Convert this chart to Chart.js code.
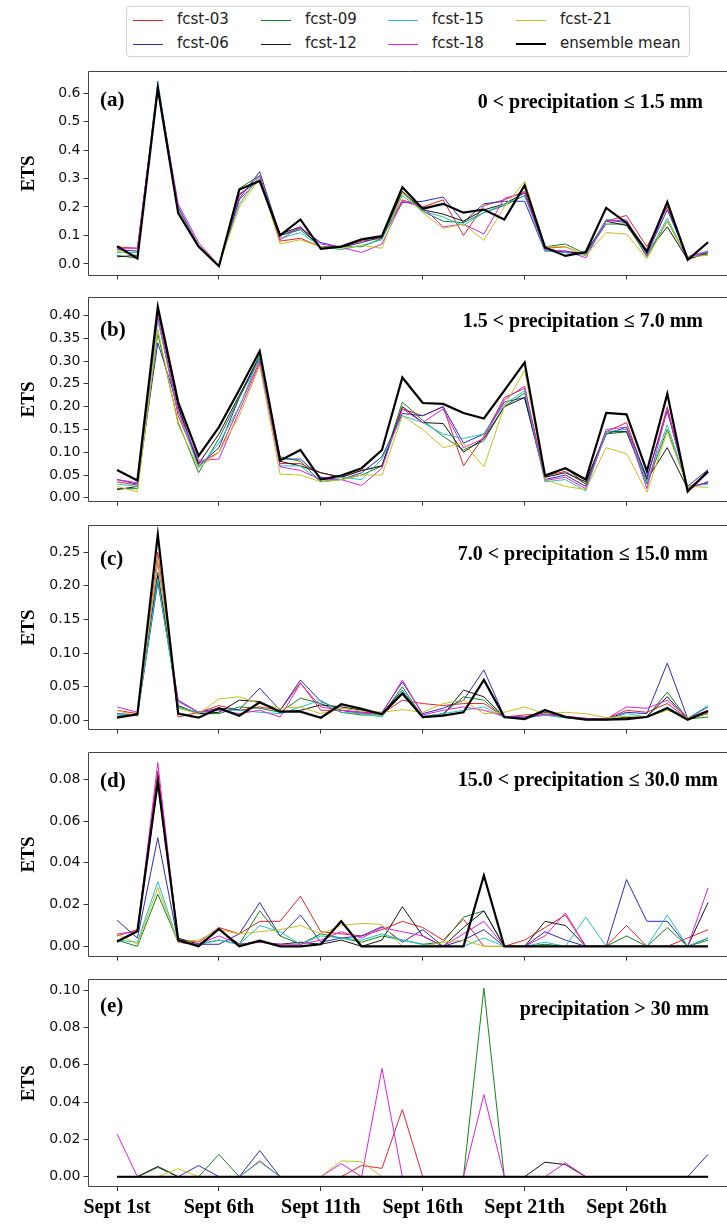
<!DOCTYPE html>
<html>
<head>
<meta charset="utf-8">
<script src="https://cdn.jsdelivr.net/npm/chart.js@4.4.1/dist/chart.umd.min.js"></script>
<style>
  body { margin: 0; background: #fff; width: 727px; height: 1225px; position: relative; overflow: hidden; }
  canvas { position: absolute; left: 0; }
  #legend { position: absolute; left: 126px; top: 6px; width: 562px; height: 49px; border: 1px solid #d0d0d0; border-radius: 4px; font-family: "DejaVu Sans"; font-size: 15px; color: #222; }
  #legend div, #legend span { position: absolute; }
</style>
</head>
<body>
<div id="legend"></div>
<canvas id="pa" width="727" height="227" style="top:60px"></canvas>
<canvas id="pb" width="727" height="227" style="top:286px"></canvas>
<canvas id="pc" width="727" height="227" style="top:514px"></canvas>
<canvas id="pd" width="727" height="227" style="top:741px"></canvas>
<canvas id="pe" width="727" height="257" style="top:968px"></canvas>
<script>
// days of September
const days = [1,2,3,4,5,6,7,8,9,10,11,12,13,14,15,16,17,18,19,20,21,22,23,24,25,26,27,28,29,30];
const tickDays = [1, 6, 11, 16, 21, 26];
const tickLabels = ["Sept 1st", "Sept 6th", "Sept 11th", "Sept 16th", "Sept 21th", "Sept 26th"];

const names = ["fcst-03", "fcst-06", "fcst-09", "fcst-12", "fcst-15", "fcst-18", "fcst-21", "ensemble mean"];
const colors = ["#e3242b", "#2a2ab8", "#12841a", "#151515", "#22c2c2", "#dd22dd", "#c8c020", "#000000"];

// (a) 0 < precipitation <= 1.5 mm
const a03 = [.060,.055,.620,.190,.065,-.005,.225,.300,.080,.090,.060,.060,.080,.090,.225,.200,.225,.100,.205,.225,.255,.055,.060,.030,.150,.170,.060,.200,.020,.040];
const a06 = [.050,.045,.625,.200,.065,-.005,.230,.324,.100,.125,.075,.058,.075,.095,.215,.220,.235,.147,.211,.220,.220,.045,.045,.035,.155,.145,.035,.190,.025,.045];
const a09 = [.030,.020,.630,.185,.060,-.005,.265,.310,.100,.120,.060,.062,.060,.090,.250,.185,.150,.145,.180,.205,.240,.060,.070,.035,.140,.140,.025,.150,.020,.035];
const a12 = [.025,.030,.615,.180,.060,-.006,.245,.295,.105,.130,.055,.060,.085,.095,.255,.190,.175,.150,.190,.210,.250,.055,.040,.040,.150,.135,.040,.130,.015,.040];
const a15 = [.040,.040,.642,.190,.065,-.005,.210,.310,.090,.110,.060,.050,.065,.085,.240,.185,.165,.135,.180,.210,.240,.045,.040,.030,.155,.150,.030,.160,.020,.045];
const a18 = [.055,.055,.625,.210,.075,-.005,.240,.310,.085,.130,.070,.058,.040,.070,.220,.200,.130,.140,.105,.230,.250,.050,.045,.022,.150,.155,.030,.210,.025,.040];
const a21 = [.045,.030,.610,.185,.065,-.005,.200,.300,.070,.085,.060,.055,.065,.055,.250,.180,.125,.140,.083,.200,.290,.060,.060,.030,.110,.105,.018,.150,.025,.030];
const aMean = [.062,.019,.617,.178,.061,-.008,.261,.291,.100,.156,.053,.061,.086,.098,.269,.194,.211,.180,.191,.156,.276,.058,.028,.042,.197,.144,.044,.217,.014,.076];

// (b) 1.5 < precipitation <= 7.0 mm
const b03 = [.035,.028,.395,.180,.075,.100,.200,.300,.075,.075,.055,.045,.060,.070,.195,.180,.200,.070,.135,.220,.240,.048,.058,.030,.145,.165,.040,.200,.020,.055];
const b06 = [.040,.030,.340,.200,.070,.110,.220,.305,.085,.085,.045,.040,.055,.090,.185,.180,.200,.120,.140,.210,.220,.040,.050,.025,.140,.155,.045,.190,.025,.062];
const b09 = [.020,.020,.360,.165,.055,.130,.220,.315,.090,.080,.035,.040,.050,.070,.210,.170,.135,.105,.125,.200,.230,.045,.066,.030,.140,.145,.030,.150,.025,.032];
const b12 = [.018,.025,.410,.200,.075,.140,.225,.310,.080,.070,.055,.045,.060,.070,.200,.165,.163,.100,.130,.200,.220,.045,.055,.035,.145,.145,.040,.110,.020,.035];
const b15 = [.030,.025,.390,.190,.065,.120,.200,.310,.070,.070,.035,.045,.040,.085,.180,.165,.140,.130,.140,.205,.235,.035,.040,.015,.145,.150,.035,.160,.025,.030];
const b18 = [.040,.033,.400,.190,.082,.085,.190,.295,.068,.060,.040,.040,.027,.065,.195,.165,.195,.110,.130,.215,.245,.038,.045,.020,.150,.155,.020,.195,.020,.035];
const b21 = [.025,.013,.370,.160,.065,.100,.180,.290,.052,.050,.035,.040,.050,.050,.180,.150,.110,.120,.068,.200,.280,.040,.025,.018,.110,.097,.012,.145,.025,.023];
const bMean = [.061,.038,.419,.210,.092,.155,.237,.322,.082,.105,.040,.049,.065,.105,.264,.208,.206,.186,.174,.235,.297,.049,.065,.040,.186,.183,.058,.228,.014,.058];

// (c) 7.0 < precipitation <= 15.0 mm
const c03 = [.015,.010,.250,.005,.012,.022,.015,.020,.015,.056,.015,.015,.010,.010,.030,.025,.022,.025,.025,.005,.008,.010,.006,.003,.002,.015,.012,.025,.003,.015];
const c06 = [.010,.008,.205,.030,.012,.018,.016,.048,.015,.060,.028,.015,.012,.012,.057,.010,.018,.030,.075,.006,.005,.012,.005,.002,.002,.012,.010,.085,.003,.020];
const c09 = [.006,.010,.220,.020,.010,.010,.020,.018,.012,.033,.025,.012,.008,.008,.050,.005,.010,.035,.030,.004,.004,.008,.004,.001,.001,.005,.005,.042,.002,.005];
const c12 = [.004,.010,.215,.022,.010,.012,.030,.028,.013,.015,.023,.020,.015,.010,.045,.004,.008,.045,.035,.005,.003,.016,.006,.002,.001,.004,.006,.035,.002,.010];
const c15 = [.008,.008,.210,.020,.012,.015,.015,.012,.010,.020,.030,.012,.010,.005,.045,.006,.010,.015,.020,.004,.003,.008,.004,.002,.001,.010,.005,.020,.003,.022];
const c18 = [.020,.012,.235,.028,.012,.015,.010,.015,.005,.055,.020,.015,.012,.010,.060,.008,.015,.020,.015,.006,.004,.009,.006,.003,.002,.020,.018,.030,.004,.012];
const c21 = [.015,.006,.240,.018,.010,.032,.035,.025,.018,.020,.010,.018,.014,.012,.016,.012,.025,.030,.010,.012,.020,.010,.012,.010,.004,.006,.005,.015,.004,.010];
const cMean = [.004,.009,.276,.010,.004,.018,.007,.027,.013,.013,.004,.024,.017,.009,.040,.005,.007,.012,.060,.005,.002,.015,.005,.001,.001,.002,.005,.018,.001,.014];

// (d) 15.0 < precipitation <= 30.0 mm
const d03 = [.005,.008,.084,.003,.002,.009,.006,.012,.012,.024,.007,.006,.005,.008,.012,.009,.003,.013,.000,.000,.003,.009,.015,.000,.000,.010,.000,.000,.004,.008];
const d06 = [.0125,.004,.052,.002,.001,.001,.006,.021,.005,.015,.002,.004,.005,.0095,.002,.008,.000,.003,.008,.000,.000,.007,.003,.000,.000,.032,.012,.012,.000,.004];
const d09 = [.003,.000,.025,.002,.001,.003,.001,.017,.005,.001,.006,.004,.002,.005,.003,.001,.002,.014,.017,.000,.000,.001,.000,.000,.000,.005,.000,.009,.000,.003];
const d12 = [.002,.007,.078,.004,.001,.008,.001,.002,.001,.002,.001,.003,.000,.003,.019,.005,.000,.009,.017,.000,.000,.012,.010,.000,.000,.000,.000,.000,.000,.021];
const d15 = [.003,.002,.031,.002,.001,.003,.001,.010,.007,.001,.005,.004,.003,.006,.003,.001,.000,.000,.004,.000,.000,.002,.000,.014,.000,.000,.000,.015,.000,.004];
const d18 = [.006,.007,.088,.002,.001,.005,.001,.002,.001,.001,.003,.007,.004,.009,.007,.005,.000,.006,.012,.000,.000,.005,.016,.000,.000,.000,.000,.000,.000,.028];
const d21 = [.006,.001,.028,.002,.003,.008,.006,.007,.008,.010,.006,.010,.011,.0105,.000,.000,.002,.003,.000,.000,.000,.000,.000,.000,.000,.000,.000,.000,.000,.000];
const dMean = [.0023,.0073,.079,.003,.000,.0084,.000,.0027,.000,.000,.001,.012,.000,.000,.000,.000,.000,.000,.034,.000,.000,.000,.000,.000,.000,.000,.000,.000,.000,.000];

// (e) precipitation > 30 mm
const e03 = [0,0,0,0,0,0,0,.0085,0,0,0,0,.006,.0045,.036,0,0,0,0,0,0,0,0,0,0,0,0,0,0,0];
const e06 = [0,0,0,0,.006,0,0,.014,0,0,0,0,0,0,0,0,0,0,0,0,0,0,0,0,0,0,0,0,0,.012];
const e09 = [0,0,.005,0,0,.012,0,0,0,0,0,0,0,0,0,0,0,0,.101,0,0,0,0,0,0,0,0,0,0,0];
const e12 = [0,0,.0055,0,0,0,0,0,0,0,0,0,0,0,0,0,0,0,0,0,0,.0078,.0065,0,0,0,0,0,0,0];
const e15 = [0,0,0,0,0,0,0,.008,0,0,0,0,0,0,0,0,0,0,0,0,0,0,0,0,0,0,0,0,0,0];
const e18 = [.023,0,0,0,0,0,0,0,0,0,0,.007,0,.058,0,0,0,0,.044,0,0,0,.0074,0,0,0,0,0,0,0];
const e21 = [0,0,0,.0043,0,0,0,0,0,0,0,.0085,.008,0,0,0,0,0,0,0,0,0,0,0,0,0,0,0,0,0];
const eMean = [0,0,0,0,0,0,0,0,0,0,0,0,0,0,0,0,0,0,0,0,0,0,0,0,0,0,0,0,0,0];

const yTicksA = [0, 0.1, 0.2, 0.3, 0.4, 0.5, 0.6];
const yTicksB = [0, 0.05, 0.10, 0.15, 0.20, 0.25, 0.30, 0.35, 0.40];
const yTicksC = [0, 0.05, 0.10, 0.15, 0.20, 0.25];
const yTicksD = [0, 0.02, 0.04, 0.06, 0.08];
const yTicksE = [0, 0.02, 0.04, 0.06, 0.08, 0.10];

const panels = [
  { id: "pa", tag: "(a)", title: "0 < precipitation \u2264 1.5 mm", series: [a03, a06, a09, a12, a15, a18, a21, aMean],
    yMin: -0.041, yMax: 0.676, ticks: yTicksA, dec: 1, tagY: 29, titleX: 703, titleY: 31 },
  { id: "pb", tag: "(b)", title: "1.5 < precipitation \u2264 7.0 mm", series: [b03, b06, b09, b12, b15, b18, b21, bMean],
    yMin: -0.0083, yMax: 0.4396, ticks: yTicksB, dec: 2, tagY: 33, titleX: 703, titleY: 24 },
  { id: "pc", tag: "(c)", title: "7.0 < precipitation \u2264 15.0 mm", series: [c03, c06, c09, c12, c15, c18, c21, cMean],
    yMin: -0.0137, yMax: 0.2897, ticks: yTicksC, dec: 2, tagY: 34, titleX: 708, titleY: 29 },
  { id: "pd", tag: "(d)", title: "15.0 < precipitation \u2264 30.0 mm", series: [d03, d06, d09, d12, d15, d18, d21, dMean],
    yMin: -0.0049, yMax: 0.0929, ticks: yTicksD, dec: 2, tagY: 29, titleX: 718, titleY: 28 },
  { id: "pe", tag: "(e)", title: "precipitation > 30 mm", series: [e03, e06, e09, e12, e15, e18, e21, eMean],
    yMin: -0.0055, yMax: 0.1057, ticks: yTicksE, dec: 2, tagY: 27, titleX: 709, titleY: 30 }
];

// legend (4 columns, filled column by column)
const legend = document.getElementById("legend");
const colX = [6, 134, 261, 389];
const rowY = [13, 37];
names.forEach((n, k) => {
  const cx = colX[Math.floor(k / 2)], cy = rowY[k % 2];
  const lw = k === 7 ? 2 : 1;
  const h = document.createElement("div");
  h.style.cssText = `left:${cx}px;top:${cy - lw / 2}px;width:30px;height:${lw}px;background:${colors[k]}`;
  legend.appendChild(h);
  const t = document.createElement("span");
  t.textContent = n;
  t.style.cssText = `left:${cx + 44}px;top:${cy - 10}px;line-height:19px;white-space:nowrap`;
  legend.appendChild(t);
});

function framePlugin(p) {
  return {
    id: "frame",
    afterDraw(chart) {
      const { ctx, chartArea: a } = chart;
      ctx.save();
      ctx.strokeStyle = "#444";
      ctx.lineWidth = 1;
      const t = Math.round(a.top) + 0.5, b = Math.round(a.bottom) - 0.5, l = Math.round(a.left) + 0.5;
      ctx.beginPath();
      ctx.moveTo(a.right + 2, t); ctx.lineTo(l, t); ctx.lineTo(l, b); ctx.lineTo(a.right + 2, b);
      ctx.stroke();
      ctx.fillStyle = "#000";
      ctx.textBaseline = "middle";
      ctx.font = 'bold 21px "Liberation Serif"';
      ctx.textAlign = "left";
      ctx.fillText(p.tag, 100, a.top + p.tagY);
      ctx.font = 'bold 20px "Liberation Serif"';
      ctx.textAlign = "right";
      ctx.fillText(p.title, p.titleX, a.top + p.titleY);
      ctx.restore();
    }
  };
}

panels.forEach((p, idx) => {
  const isLast = idx === panels.length - 1;
  new Chart(document.getElementById(p.id), {
    type: "line",
    data: {
      datasets: p.series.map((vals, k) => ({
        label: names[k],
        data: vals.map((v, i) => ({ x: days[i], y: v })),
        borderColor: colors[k],
        borderWidth: k === 7 ? 2.2 : 1,
        pointRadius: 0,
        tension: 0,
        fill: false,
        order: 7 - k
      }))
    },
    options: {
      responsive: false,
      animation: false,
      devicePixelRatio: 1,
      layout: { padding: { top: 4, left: 0, right: 0, bottom: 0 } },
      plugins: { legend: { display: false }, tooltip: { enabled: false } },
      scales: {
        x: {
          type: "linear",
          min: -0.45,
          max: 30.93,
          afterBuildTicks: s => { s.ticks = tickDays.map(v => ({ value: v })); },
          afterFit: s => { s.height = isLast ? 38 : 8; },
          grid: { drawOnChartArea: false, drawTicks: true, tickLength: 4, color: "#333" },
          border: { display: false },
          ticks: {
            display: isLast, autoSkip: false, maxRotation: 0, padding: 5, color: "#000",
            font: { family: "Liberation Serif", weight: "bold", size: 20 },
            callback: v => tickLabels[tickDays.indexOf(v)]
          }
        },
        y: {
          min: p.yMin,
          max: p.yMax,
          afterBuildTicks: s => { s.ticks = p.ticks.map(v => ({ value: v })); },
          afterFit: s => { s.width = 87.5; },
          grid: { drawOnChartArea: false, drawTicks: true, tickLength: 4, color: "#333" },
          border: { display: false },
          ticks: {
            color: "#111", padding: 3,
            font: { family: "DejaVu Sans", size: 14 },
            callback: v => v.toFixed(p.dec)
          },
          title: {
            display: true, text: "ETS", color: "#000",
            font: { family: "Liberation Serif", weight: "bold", size: 19 },
            padding: { top: 18, bottom: 0 }
          }
        }
      }
    },
    plugins: [framePlugin(p)]
  });
});
</script>
</body>
</html>
